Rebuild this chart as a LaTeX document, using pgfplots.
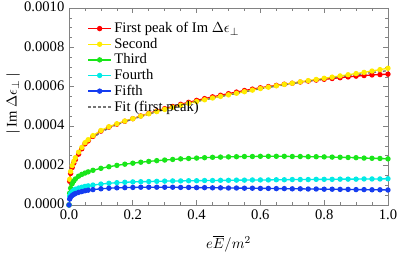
\documentclass[border=0pt]{standalone}
\usepackage{pgfplots}
\pgfplotsset{compat=1.18}
\usepackage{pgfplotstable}
\usepackage{fontspec}
\setmainfont{Liberation Serif}
\definecolor{cred}{RGB}{255,0,0}
\definecolor{cyel}{RGB}{255,235,0}
\definecolor{cgrn}{RGB}{25,230,25}
\definecolor{ccyn}{RGB}{0,235,230}
\definecolor{cblu}{RGB}{20,60,240}
\definecolor{cfit}{RGB}{115,115,115}
\definecolor{cframe}{RGB}{130,130,130}

\pgfplotstableread{
x      first     second    third     fourth    fifth
0.000  0.000000  0.000000  0.000000  0.000000  0.000000
0.002  0.000120  0.000130  0.000060  0.000045  0.000030
0.005  0.000160  0.000170  0.000085  0.000058  0.000040
0.010  0.000190  0.000200  0.000108  0.000068  0.000048
0.015  0.000212  0.000222  0.000122  0.000075  0.000054
0.020  0.000230  0.000240  0.000132  0.000080  0.000058
0.030  0.000258  0.000268  0.000146  0.000086  0.000064
0.040  0.000285  0.000292  0.000155  0.000090  0.000068
0.050  0.000310  0.000316  0.000162  0.000094  0.000072
0.060  0.000325  0.000331  0.000168  0.000097  0.000075
0.075  0.000348  0.000352  0.000176  0.000101  0.000078
0.100  0.000375  0.000378  0.000186  0.000106  0.000082
0.125  0.000395  0.000397  0.000194  0.000110  0.000085
0.150  0.000410  0.000412  0.000201  0.000113  0.000087
0.175  0.000425  0.000426  0.000207  0.000115  0.000088
0.200  0.000438  0.000438  0.000212  0.000117  0.000089
0.225  0.000452  0.000451  0.000217  0.000118  0.000090
0.250  0.000465  0.000463  0.000221  0.000119  0.000090
0.275  0.000477  0.000474  0.000225  0.000120  0.000090
0.300  0.000489  0.000485  0.000228  0.000121  0.000090
0.325  0.000500  0.000496  0.000231  0.000122  0.000090
0.350  0.000511  0.000506  0.000234  0.000122  0.000089
0.375  0.000521  0.000516  0.000236  0.000123  0.000089
0.400  0.000531  0.000525  0.000238  0.000123  0.000088
0.425  0.000540  0.000534  0.000240  0.000124  0.000088
0.450  0.000549  0.000543  0.000242  0.000124  0.000087
0.475  0.000557  0.000551  0.000243  0.000125  0.000087
0.500  0.000565  0.000559  0.000244  0.000125  0.000086
0.525  0.000573  0.000567  0.000245  0.000126  0.000086
0.550  0.000581  0.000575  0.000246  0.000126  0.000085
0.575  0.000588  0.000583  0.000246  0.000127  0.000085
0.600  0.000595  0.000591  0.000247  0.000127  0.000084
0.625  0.000601  0.000598  0.000247  0.000127  0.000084
0.650  0.000607  0.000605  0.000247  0.000128  0.000083
0.675  0.000613  0.000612  0.000247  0.000128  0.000083
0.700  0.000618  0.000618  0.000246  0.000129  0.000082
0.725  0.000624  0.000625  0.000246  0.000129  0.000082
0.750  0.000629  0.000631  0.000245  0.000129  0.000081
0.775  0.000634  0.000637  0.000245  0.000130  0.000081
0.800  0.000638  0.000643  0.000244  0.000130  0.000080
0.825  0.000642  0.000649  0.000243  0.000130  0.000080
0.850  0.000646  0.000655  0.000242  0.000131  0.000079
0.875  0.000650  0.000661  0.000241  0.000131  0.000079
0.900  0.000654  0.000667  0.000240  0.000131  0.000078
0.925  0.000657  0.000673  0.000238  0.000132  0.000078
0.950  0.000660  0.000680  0.000237  0.000132  0.000077
0.975  0.000662  0.000687  0.000236  0.000132  0.000077
1.000  0.000664  0.000694  0.000234  0.000133  0.000076
}\peaks

\pgfplotstableread{
x      fit
0.000  0.000000
0.001  0.000105
0.003  0.000150
0.006  0.000178
0.010  0.000198
0.020  0.000235
0.030  0.000262
0.050  0.000305
0.075  0.000340
0.100  0.000370
0.150  0.000408
0.200  0.000436
0.250  0.000461
0.300  0.000485
0.350  0.000506
0.400  0.000525
0.450  0.000542
0.500  0.000558
0.550  0.000574
0.600  0.000590
0.650  0.000603
0.700  0.000616
0.750  0.000628
0.800  0.000639
0.850  0.000650
0.900  0.000661
0.950  0.000672
1.000  0.000682
}\fitdata

\begin{document}
\begin{tikzpicture}
\begin{axis}[
  name=ax,
  scale only axis,
  width=239.8pt, height=148.1pt,
  xmin=0, xmax=1, ymin=0, ymax=0.001,
  xtick={0,0.2,0.4,0.6,0.8,1.0},
  ytick={0,0.0002,0.0004,0.0006,0.0008,0.001},
  minor tick num=3,
  major tick length=3.5pt, minor tick length=2pt,
  axis line style={cframe, line width=0.5pt},
  every tick/.style={cframe, line width=0.5pt},
  scaled y ticks=false,
  scaled x ticks=false,
  /pgf/number format/assume math mode=true,
  xticklabel style={inner ysep=1pt, yshift=-2.5pt, /pgf/number format/.cd, fixed, fixed zerofill, precision=1},
  yticklabel style={inner ysep=0.5pt, xshift=0pt, yshift=0.8pt, /pgf/number format/.cd, fixed, fixed zerofill, precision=4},
  tick label style={font=\fontsize{11}{13}\selectfont},
  label style={font=\fontsize{11}{13}\selectfont},
  xlabel={$e\overline{E}/m^2$},
  xlabel style={at={(axis description cs:0.5,-0.198)}, anchor=center},
  ylabel={| Im $\Delta\epsilon_{\perp}$ |},
  ylabel style={at={(axis description cs:-0.175,0.515)}, anchor=center, rotate=0},
  legend cell align=left,
  legend style={draw=none, fill=none, at={(axis description cs:0.045,0.955)}, anchor=north west,
    font=\fontsize{11}{13}\selectfont, row sep=-1.4pt},
  clip=true,
]
\addplot[cred, line width=1pt, mark=*, mark size=1.5pt] table[x=x, y=first] {\peaks};
\addlegendentry{First peak of Im $\Delta\epsilon_{\perp}$}
\addplot[cyel, line width=1pt, mark=*, mark size=1.5pt] table[x=x, y=second] {\peaks};
\addlegendentry{Second}
\addplot[cgrn, line width=1pt, mark=*, mark size=1.5pt] table[x=x, y=third] {\peaks};
\addlegendentry{Third}
\addplot[ccyn, line width=1pt, mark=*, mark size=1.5pt] table[x=x, y=fourth] {\peaks};
\addlegendentry{Fourth}
\addplot[cblu, line width=1pt, mark=*, mark size=1.5pt] table[x=x, y=fifth] {\peaks};
\addlegendentry{Fifth}
\addplot[cfit, line width=1pt, dash pattern=on 2.2pt off 1.5pt, no marks] table[x=x, y=fit] {\fitdata};
\addlegendentry{Fit (first peak)}
\end{axis}
\pgfresetboundingbox
\path ([xshift=-51.9pt,yshift=-36.8pt]ax.south west) rectangle ([xshift=8.3pt,yshift=6pt]ax.north east);
\end{tikzpicture}
\end{document}
